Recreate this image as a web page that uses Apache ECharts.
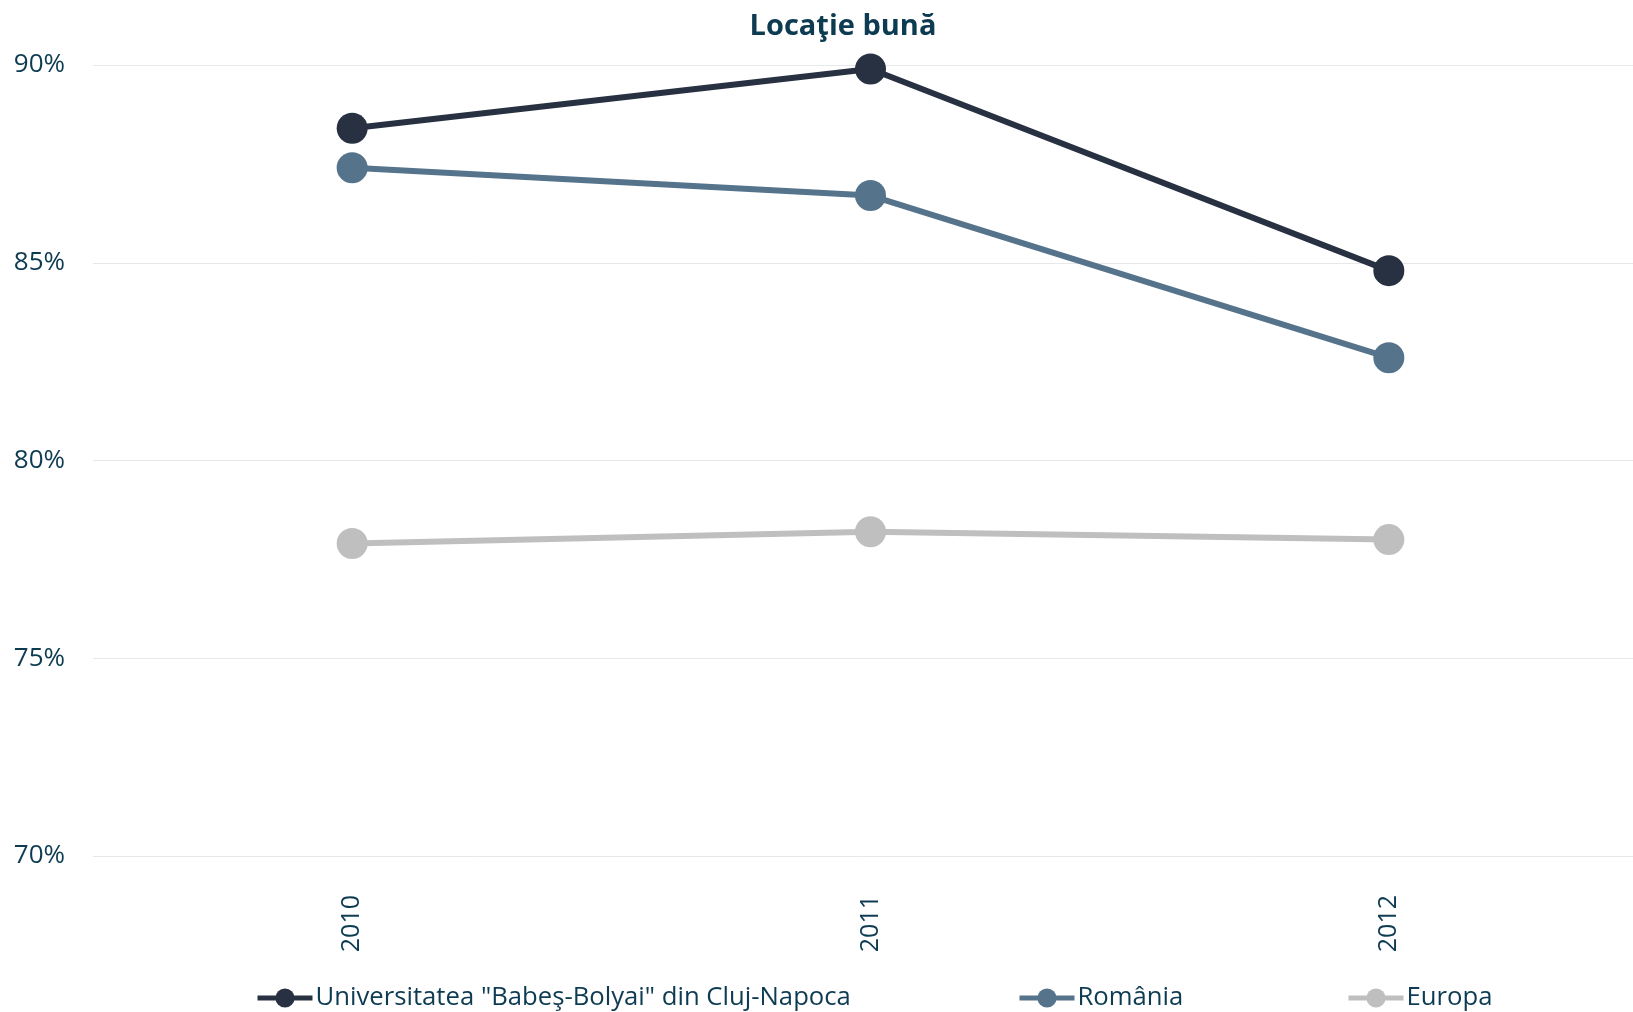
<!DOCTYPE html>
<html>
<head>
<meta charset="utf-8">
<script src="https://cdn.jsdelivr.net/npm/echarts@6/dist/echarts.min.js"></script>
<style>
  html, body { margin: 0; padding: 0; background: #ffffff; }
  #chart { width: 1633px; height: 1012px; }
</style>
</head>
<body>
<div id="chart"></div>
<script>
// Years on the category axis
const years = ['2010', '2011', '2012'];

// Share of respondents rating the location as good (%)
const ubbValues = [88.4, 89.9, 84.8];
const romaniaValues = [87.4, 86.7, 82.6];
const europaValues = [77.9, 78.2, 78.0];

const seriesNames = ['Universitatea "Babeş-Bolyai" din Cluj-Napoca', 'România', 'Europa'];

// Value axis ticks
const yMin = 70;
const yMax = 90;
const yStep = 5;

const textColor = '#0d3b52';
const fontFamily = '"Open Sans", "Noto Sans", sans-serif';
const colors = ['#283142', '#56738c', '#bfbfbf'];

const chart = echarts.init(document.getElementById('chart'), null, { renderer: 'canvas' });

// One legend block per series so each entry sits at its own spot along the bottom
function legendAt(name, left) {
  return {
    data: [name],
    left: left,
    top: 985,
    itemWidth: 55,
    itemHeight: 24,
    itemGap: 0,
    padding: 0,
    lineStyle: { width: 5 },
    textStyle: { color: textColor, fontSize: 25.7, fontFamily: fontFamily, padding: [0, 0, 0, -2] }
  };
}

chart.setOption({
  backgroundColor: '#ffffff',
  animation: false,
  title: {
    text: 'Locaţie bună',
    left: 838,
    top: 7,
    textAlign: 'center',
    textStyle: { color: textColor, fontSize: 29, fontWeight: 'bold', fontFamily: fontFamily }
  },
  legend: [
    legendAt(seriesNames[0], 255),
    legendAt(seriesNames[1], 1017),
    legendAt(seriesNames[2], 1346)
  ],
  grid: { left: 93, top: 65, right: -15, bottom: 156, containLabel: false, outerBoundsMode: 'none' },
  xAxis: {
    type: 'category',
    data: years,
    boundaryGap: true,
    axisLine: { show: false },
    axisTick: { show: false },
    axisLabel: {
      rotate: 90,
      margin: 39,
      color: textColor,
      fontSize: 25,
      fontFamily: fontFamily
    },
    splitLine: { show: false }
  },
  yAxis: {
    type: 'value',
    min: yMin,
    max: yMax,
    interval: yStep,
    axisLine: { show: false },
    axisTick: { show: false },
    axisLabel: {
      formatter: '{value}%',
      margin: 28,
      color: textColor,
      fontSize: 26,
      fontFamily: fontFamily
    },
    splitLine: { lineStyle: { color: '#e6e9eb', width: 1 } }
  },
  series: [
    {
      name: seriesNames[0],
      type: 'line',
      data: ubbValues,
      symbol: 'circle',
      symbolSize: 31,
      color: colors[0],
      lineStyle: { width: 6, color: colors[0] },
      itemStyle: { color: colors[0] },
      z: 4
    },
    {
      name: seriesNames[1],
      type: 'line',
      data: romaniaValues,
      symbol: 'circle',
      symbolSize: 31,
      color: colors[1],
      lineStyle: { width: 6, color: colors[1] },
      itemStyle: { color: colors[1] },
      z: 3
    },
    {
      name: seriesNames[2],
      type: 'line',
      data: europaValues,
      symbol: 'circle',
      symbolSize: 31,
      color: colors[2],
      lineStyle: { width: 6, color: colors[2] },
      itemStyle: { color: colors[2] },
      z: 2
    }
  ]
});
</script>
</body>
</html>
